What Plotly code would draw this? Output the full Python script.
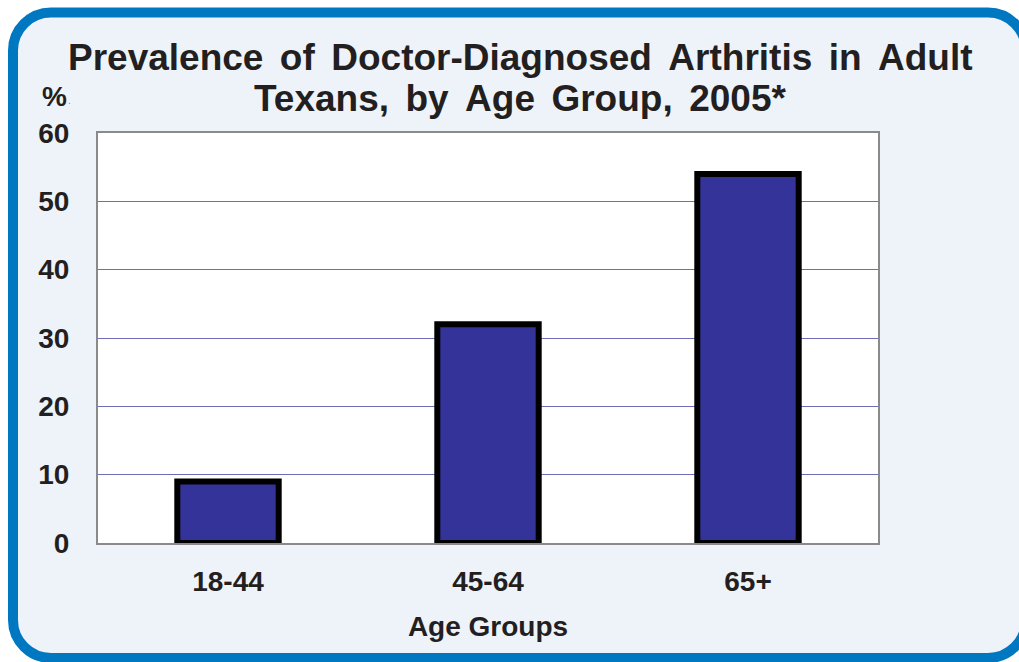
import plotly.graph_objects as go

# ---- data ----
categories = ["18-44", "45-64", "65+"]
prevalence = [9, 32, 54]
y_ticks = [0, 10, 20, 30, 40, 50, 60]
title_lines = ["Prevalence of Doctor-Diagnosed Arthritis in Adult",
               "Texans, by Age Group, 2005*"]
x_title = "Age Groups"
y_unit = "%"

W, H = 1019, 662
L, R, T, B = 98, 878, 133, 543  # plot area in pixels

def px_x(px):
    return (px - L) / (R - L)

def px_y(py):
    return (B - py) / (B - T)

def rounded_path(x0, y0, x1, y1, r):
    k = 0.5523 * r
    def P(x, y):
        return f"{px_x(x):.5f},{px_y(y):.5f}"
    d = f"M {P(x0 + r, y0)} L {P(x1 - r, y0)} "
    d += f"C {P(x1 - r + k, y0)} {P(x1, y0 + r - k)} {P(x1, y0 + r)} "
    d += f"L {P(x1, y1 - r)} "
    d += f"C {P(x1, y1 - r + k)} {P(x1 - r + k, y1)} {P(x1 - r, y1)} "
    d += f"L {P(x0 + r, y1)} "
    d += f"C {P(x0 + r - k, y1)} {P(x0, y1 - r + k)} {P(x0, y1 - r)} "
    d += f"L {P(x0, y0 + r)} "
    d += f"C {P(x0, y0 + r - k)} {P(x0 + r - k, y0)} {P(x0 + r, y0)} Z"
    return d

FONT = "Liberation Sans, Arial, sans-serif"
TXT = "#231F20"

fig = go.Figure()
fig.add_trace(go.Bar(
    x=categories, y=prevalence,
    width=0.39,
    marker=dict(color="#333399", line=dict(color="black", width=6)),
    hoverinfo="skip",
))

fig.update_layout(
    width=W, height=H,
    margin=dict(l=L, r=W - R, t=T, b=H - B),
    paper_bgcolor="white",
    plot_bgcolor="white",
    showlegend=False,
    font=dict(family=FONT, color=TXT),
    shapes=[
        dict(type="path", xref="paper", yref="paper",
             path=rounded_path(13, 12.5, 1026, 658, 38),
             fillcolor="#EEF3FA", line=dict(color="#0078C1", width=10),
             layer="below"),
        dict(type="rect", xref="paper", yref="paper", x0=0, x1=1, y0=0, y1=1,
             fillcolor="white", line=dict(width=0), layer="below"),
    ],
)

fig.update_xaxes(
    showgrid=False, showline=True, mirror=True, linecolor="#8A8A8A", linewidth=2,
    ticks="", ticklabelstandoff=12, layer="below traces",
    tickfont=dict(size=28, family=FONT, color=TXT, weight="bold"),
    title=dict(text=x_title, font=dict(size=28, family=FONT, color=TXT, weight="bold"), standoff=21),
)
fig.update_yaxes(
    range=[0, 60], tickvals=y_ticks, showgrid=True, gridcolor="#6E6EB8", gridwidth=1,
    zeroline=False, showline=True, mirror=True, linecolor="#8A8A8A", linewidth=2,
    ticks="", ticklabelstandoff=21, layer="below traces",
    tickfont=dict(size=28, family=FONT, color=TXT, weight="bold"),
)

SP = " \u2006"
for i, line in enumerate(title_lines):
    fig.add_annotation(
        text=f"<b>{line.replace(' ', SP)}</b>", xref="paper", yref="paper",
        x=px_x(520), y=px_y(57 + i * 42), xanchor="center", yanchor="middle",
        showarrow=False, font=dict(size=37, family=FONT, color=TXT),
    )

fig.add_annotation(
    text=f"<b>{y_unit}</b>", xref="paper", yref="paper",
    x=px_x(40), y=px_y(97), xanchor="left", yanchor="middle",
    showarrow=False, font=dict(size=28, family=FONT, color=TXT),
)
fig.add_annotation(
    text=".", xref="paper", yref="paper",
    x=px_x(66), y=px_y(101), xanchor="left", yanchor="middle",
    showarrow=False, font=dict(size=10, family=FONT, color="#888888"),
)

fig.write_html("out.html", config={"displayModeBar": False, "staticPlot": True},
               post_script="document.body.style.margin='0';document.body.style.overflow='hidden';")
